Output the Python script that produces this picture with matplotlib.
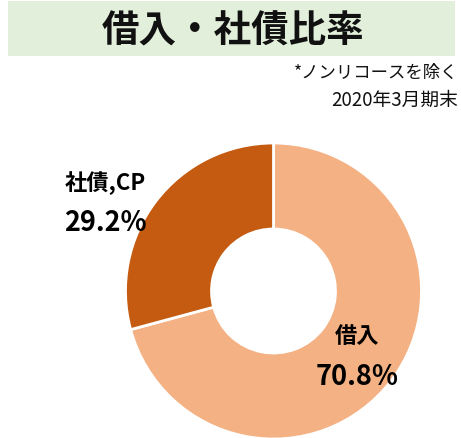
import matplotlib
matplotlib.use('Agg')
import matplotlib.pyplot as plt
from matplotlib.patches import Rectangle

plt.rcParams['font.family'] = ['Noto Sans CJK JP', 'DejaVu Sans']

# 借入・社債の構成比 (2020年3月期末)
labels = ['借入', '社債,CP']
shares = [70.8, 29.2]
colors = ['#F4B183', '#C55A11']

W, H = 461, 439
fig = plt.figure(figsize=(W / 100, H / 100), dpi=100)

# タイトル帯
fig.patches.append(Rectangle((8 / W, 1 - 57 / H), 447 / W, 55 / H,
                             transform=fig.transFigure, facecolor='#E2EFDA',
                             edgecolor='none', zorder=0))
fig.text(233 / W, 1 - 31 / H, '借入・社債比率', ha='center', va='center',
         fontsize=27, fontweight='bold', color='#111111')
fig.text(458 / W, 1 - 73 / H, '*ノンリコースを除く', ha='right', va='center',
         fontsize=12.5, color='#111111')
fig.text(458 / W, 1 - 100 / H, '2020年3月期末', ha='right', va='center',
         fontsize=13.5, color='#111111')

# ドーナツ
cx, cy, r = 273.5, 292, 148
ax = fig.add_axes([(cx - r) / W, 1 - (cy + r) / H, 2 * r / W, 2 * r / H])
ax.pie(shares, colors=colors, startangle=90, counterclock=False,
       wedgeprops=dict(width=1 - 62 / r, edgecolor='white', linewidth=2))
ax.set_aspect('equal')
ax.set_xlim(-1, 1)
ax.set_ylim(-1, 1)
ax.axis('off')

# ラベル
pos = {'借入': (357, 337, 377), '社債,CP': (105, 183, 223)}
for lab, val in zip(labels, shares):
    x, y1, y2 = pos[lab]
    fig.text(x / W, 1 - y1 / H, lab, ha='center', va='center',
             fontsize=16, fontweight='bold', color='black')
    fig.text(x / W, 1 - y2 / H, f'{val:.1f}%', ha='center', va='center',
             fontsize=19.5, fontweight='bold', color='black')

fig.savefig('out.png', dpi=100)
